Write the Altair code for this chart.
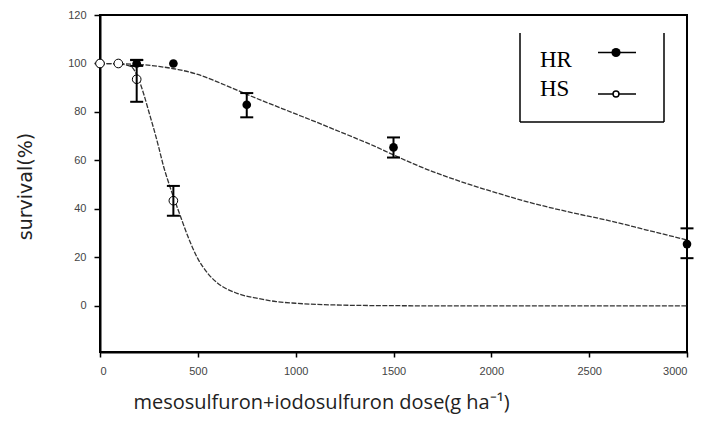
import altair as alt
import pandas as pd

# ---- observed points ----
hr_dose = [0, 187.5, 375, 750, 1500, 3000]
hr_surv = [100, 100, 100, 83, 65.4, 25.5]
hs_dose = [0, 93.75, 187.5, 375]
hs_surv = [100, 100, 93.5, 43.4]

# ---- error bars (dose, low, high) ----
err_series = ["HR", "HR", "HR", "HR", "HS", "HS"]
err_dose = [187.5, 750, 1500, 3000, 187.5, 375]
err_low = [99, 77.8, 61.2, 19.7, 84.2, 37.2]
err_high = [101.5, 87.8, 69.5, 32, 101.4, 49.5]

# ---- fitted curves ----
hr_curve_dose = [0, 100, 200, 300, 400, 500, 600, 700, 800, 900, 1000, 1100, 1200,
                 1300, 1400, 1500, 1600, 1700, 1800, 1900, 2000, 2200, 2400, 2600, 2800, 3000]
hr_curve_surv = [100, 99.9, 99.6, 98.8, 97.5, 95.5, 92.4, 89.0, 85.6, 82.4, 79.2, 76.0, 72.7,
                 69.4, 66.0, 62.3, 58.7, 55.4, 52.5, 49.8, 47.3, 42.6, 38.7, 35.2, 31.2, 27.2]
hs_curve_dose = [0, 100, 150, 175, 200, 225, 250, 275, 300, 325, 350, 375, 400, 450, 500,
                 550, 600, 700, 800, 900, 1000, 1200, 1500, 2000, 2500, 3000]
hs_curve_surv = [100, 99.8, 99.0, 97.3, 93.0, 87.0, 80.0, 73.0, 65.5, 57.5, 51.0, 45.0, 39.5,
                 28.5, 19.5, 13.5, 9.5, 5.2, 3.2, 1.8, 1.1, 0.4, 0.1, 0, 0, 0]

x_ticks = [0, 500, 1000, 1500, 2000, 2500, 3000]
y_ticks = [0, 20, 40, 60, 80, 100, 120]
legend_labels = ["HR", "HS"]

hr_df = pd.DataFrame({"dose": hr_dose, "surv": hr_surv})
hs_df = pd.DataFrame({"dose": hs_dose, "surv": hs_surv})
err_df = pd.DataFrame({"series": err_series, "dose": err_dose, "lo": err_low, "hi": err_high})
caps_df = pd.DataFrame({"dose": err_dose + err_dose, "v": err_low + err_high})
curve_df = pd.concat([
    pd.DataFrame({"series": "HR", "dose": hr_curve_dose, "surv": hr_curve_surv}),
    pd.DataFrame({"series": "HS", "dose": hs_curve_dose, "surv": hs_curve_surv}),
])

xs = alt.Scale(domain=[0, 3000], nice=False, zero=False)
ys = alt.Scale(domain=[-19, 120], nice=False, zero=False)

x_axis = alt.Axis(values=x_ticks, format="d", grid=False, tickSize=5, tickWidth=1.5,
                  domainWidth=2, domainColor="black", tickColor="black",
                  labelFont="Liberation Sans", labelFontSize=11, labelColor="#444",
                  labelPadding=8,
                  title="mesosulfuron+iodosulfuron dose(g ha⁻¹)", titleFont="Open Sans",
                  titleFontSize=20, titleFontWeight="normal", titleColor="#222",
                  titleX=221, titleY=56, titleAlign="center", titleBaseline="alphabetic")
y_axis = alt.Axis(values=y_ticks, format="d", grid=False, tickSize=6, tickWidth=1.5,
                  domainWidth=2, domainColor="black", tickColor="black",
                  labelFont="Liberation Sans", labelFontSize=11, labelColor="#444",
                  labelPadding=8,
                  title="survival(%)", titleFont="DejaVu Sans", titleFontSize=19,
                  titleFontWeight="normal", titleColor="#222",
                  titleX=-75, titleY=171, titleBaseline="middle")

curves = alt.Chart(curve_df).mark_line(
    strokeDash=[5, 1.5], strokeWidth=1.3, color="#333", interpolate="monotone"
).encode(
    x=alt.X("dose:Q", scale=xs, axis=x_axis),
    y=alt.Y("surv:Q", scale=ys, axis=y_axis),
    detail="series:N",
)

err_rules = alt.Chart(err_df).mark_rule(strokeWidth=2, color="black").encode(
    x=alt.X("dose:Q", scale=xs), y=alt.Y("lo:Q", scale=ys), y2="hi:Q"
)
caps = alt.Chart(caps_df).mark_tick(orient="horizontal", size=13, thickness=2,
                                    color="black", opacity=1).encode(
    x=alt.X("dose:Q", scale=xs), y=alt.Y("v:Q", scale=ys)
)

hr_pts = alt.Chart(hr_df).mark_point(filled=True, size=75, color="black", opacity=1).encode(
    x=alt.X("dose:Q", scale=xs), y=alt.Y("surv:Q", scale=ys)
)
hs_pts = alt.Chart(hs_df).mark_point(size=75, fill="white", stroke="black", strokeWidth=1,
                                     opacity=1, fillOpacity=1).encode(
    x=alt.X("dose:Q", scale=xs), y=alt.Y("surv:Q", scale=ys)
)

# ---- hand-drawn style legend box ----
one = pd.DataFrame({"k": [0]})
box_l = alt.Chart(one).mark_rule(strokeWidth=1.5, color="black").encode(
    x=alt.value(420), y=alt.value(18), y2=alt.value(107))
box_r = alt.Chart(one).mark_rule(strokeWidth=1.5, color="black").encode(
    x=alt.value(564), y=alt.value(18), y2=alt.value(107))
box_b = alt.Chart(one).mark_rule(strokeWidth=1.5, color="black").encode(
    x=alt.value(420), x2=alt.value(564), y=alt.value(107))
lab_hr = alt.Chart(one).mark_text(font="Liberation Serif", fontSize=23, align="left",
                                  baseline="alphabetic", color="black").encode(
    x=alt.value(440), y=alt.value(52), text=alt.value(legend_labels[0]))
lab_hs = alt.Chart(one).mark_text(font="Liberation Serif", fontSize=23, align="left",
                                  baseline="alphabetic", color="black").encode(
    x=alt.value(440), y=alt.value(81), text=alt.value(legend_labels[1]))
ln_hr = alt.Chart(one).mark_rule(strokeWidth=1.5, color="black").encode(
    x=alt.value(498), x2=alt.value(536), y=alt.value(37.5))
ln_hs = alt.Chart(one).mark_rule(strokeWidth=1.5, color="black").encode(
    x=alt.value(498), x2=alt.value(536), y=alt.value(79))
pt_hr = alt.Chart(one).mark_point(filled=True, size=85, color="black", opacity=1).encode(
    x=alt.value(516), y=alt.value(37.5))
pt_hs = alt.Chart(one).mark_point(size=35, fill="white", stroke="black", strokeWidth=1.5,
                                  opacity=1, fillOpacity=1).encode(
    x=alt.value(516), y=alt.value(79))

chart = alt.layer(
    curves, hr_pts, hs_pts, err_rules, caps,
    box_l, box_r, box_b, lab_hr, lab_hs, ln_hr, ln_hs, pt_hr, pt_hs
).properties(
    width=587, height=337,
    autosize=alt.AutoSizeParams(type="none"),
    padding={"left": 92, "top": 7, "right": 10, "bottom": 63},
).configure(
    background="white"
).configure_view(
    stroke="black", strokeWidth=2
)

chart.save("out.html", embed_options={"renderer": "svg", "actions": False})
